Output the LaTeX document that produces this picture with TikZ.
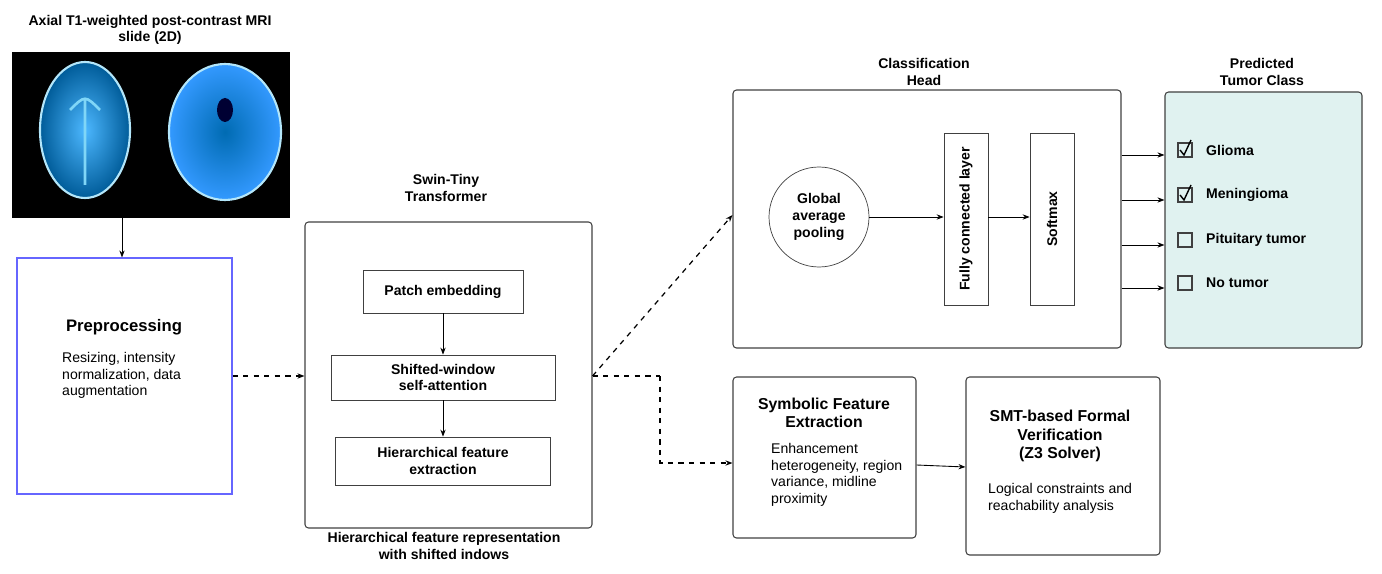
\documentclass[tikz,border=0pt]{standalone}
\usepackage{fontspec}
\setmainfont{Liberation Sans}
\usetikzlibrary{arrows.meta}
\begin{document}
\begin{tikzpicture}[x=0.02cm,y=-0.02cm,
 box/.style={draw=black!75,line width=0.6pt,rounded corners=2pt},
 lbl/.style={font=\fontsize{8}{9.5}\selectfont\bfseries,align=center},
 txt/.style={font=\fontsize{8}{9.5}\selectfont,align=left},
 arr/.style={-{Stealth[length=4pt,width=3pt]},line width=0.5pt},
 darr/.style={arr,dashed,line width=0.7pt}]
\useasboundingbox (0,0) rectangle (1382,574);
% MRI
\node[lbl] (title) at (150,30) {Axial T1-weighted post-contrast MRI\\slide (2D)};
\node[fill=black,minimum width=278*0.02cm,minimum height=166*0.02cm,inner sep=0] (mri) at (151,135) {};
\shade[inner color=cyan!60!blue!70!white,outer color=blue!40!cyan!60!black] (85,130) ellipse (45 and 68);
\draw[cyan!30!white,line width=1.2pt] (85,130) ellipse (45 and 68);
\draw[white!50!cyan,line width=1.5pt] (70,110) .. controls (85,95) .. (100,110) (85,100) -- (85,185);
\shade[inner color=blue!40!cyan!70!black,outer color=cyan!50!blue!80!white] (225,132) ellipse (56 and 68);
\draw[cyan!30!white,line width=1.2pt] (225,132) ellipse (56 and 68);
\fill[black!80!blue] (225,110) ellipse (8 and 12);
% Preprocessing
\node[draw=blue!60,line width=0.6pt,minimum width=215*0.02cm,minimum height=236*0.02cm] (pre) at (124.5,376) {};
\node[font=\fontsize{9.5}{11}\selectfont\bfseries] (pret) at (124,327) {Preprocessing};
\node[txt,anchor=north west] (pretx) at (56,346) {Resizing, intensity\\normalization, data\\augmentation};
\draw[arr] (mri.south -| 122,0) -- (pre.north -| 122,0);
% Swin
\node[box,minimum width=287*0.02cm,minimum height=306*0.02cm] (swin) at (448.5,375) {};
\node[lbl] (swint) at (446,188) {Swin-Tiny\\Transformer};
\node[lbl] (swinb) at (444,546) {Hierarchical feature representation\\with shifted indows};
\node[draw=black!75,minimum width=160*0.02cm,minimum height=43*0.02cm,lbl] (pe) at (443,291.5) {Patch embedding};
\node[draw=black!75,minimum width=224*0.02cm,minimum height=45*0.02cm,lbl] (sw) at (443,377.5) {Shifted-window\\self-attention};
\node[draw=black!75,minimum width=215*0.02cm,minimum height=48*0.02cm,lbl] (hf) at (443,461) {Hierarchical feature\\extraction};
\draw[arr] (pe) -- (sw);
\draw[arr] (sw) -- (hf);
\draw[darr] (pre.east |- 0,376) -- (swin.west |- 0,376);
% Classification head
\node[box,minimum width=388*0.02cm,minimum height=258*0.02cm] (ch) at (927,219) {};
\node[lbl] (cht) at (924,72) {Classification\\Head};
\node[draw=black!75,circle,minimum size=100*0.02cm,lbl] (gap) at (819,217) {Global\\average\\pooling};
\node[draw=black!75,minimum width=44*0.02cm,minimum height=172*0.02cm] (fc) at (966,219) {};
\node[lbl,rotate=90] at (fc) {Fully connected layer};
\node[draw=black!75,minimum width=44*0.02cm,minimum height=172*0.02cm] (sm) at (1052,219) {};
\node[lbl,rotate=90] at (sm) {Softmax};
\draw[arr] (gap) -- (fc.west |- gap);
\draw[arr] (fc.east |- gap) -- (sm.west |- gap);
\coordinate (split) at (660,376);
\draw[darr] (swin.east |- 0,376) -- (ch.west |- 0,215);
\draw[dashed,line width=0.7pt] (swin.east |- 0,376) -- (split);
% Predicted
\node[box,fill={rgb,255:red,224;green,242;blue,240},minimum width=197*0.02cm,minimum height=256*0.02cm] (pc) at (1263.5,220) {};
\node[lbl] (pct) at (1262,72) {Predicted\\Tumor Class};
\foreach \yy/\t/\c in {150/Glioma/1,195/Meningioma/1,240/Pituitary tumor/0,283/No tumor/0}{
  \draw[arr] (ch.east |- 0,\yy+5) -- (pc.west |- 0,\yy+5);
  \draw[black!75,line width=0.6pt] (1178,\yy-7) rectangle (1192,\yy+7);
  \ifnum\c=1 \draw[line width=0.8pt] (1180,\yy) -- (1184,\yy+5) -- (1191,\yy-10); \fi
  \node[lbl,anchor=west] at (1200,\yy) {\t};
}
% Symbolic
\node[box,minimum width=183*0.02cm,minimum height=161*0.02cm] (sym) at (824.5,457.5) {};
\node[font=\fontsize{9}{10.5}\selectfont\bfseries,align=center] at (824,413) {Symbolic Feature\\Extraction};
\node[txt,anchor=north west] at (765,437) {Enhancement\\heterogeneity, region\\variance, midline\\proximity};
\draw[darr] (split) -- (660,463) -- (sym.west |- 0,463);
% SMT
\node[box,minimum width=194*0.02cm,minimum height=178*0.02cm] (smt) at (1063,466) {};
\node[font=\fontsize{9}{10.5}\selectfont\bfseries,align=center] at (1060,436) {SMT-based Formal\\Verification\\(Z3 Solver)};
\node[txt,anchor=north west] at (982,477) {Logical constraints and\\reachability analysis};
\draw[arr] (sym.east |- 0,465) -- (smt.west |- 0,467);
\end{tikzpicture}
\end{document}
